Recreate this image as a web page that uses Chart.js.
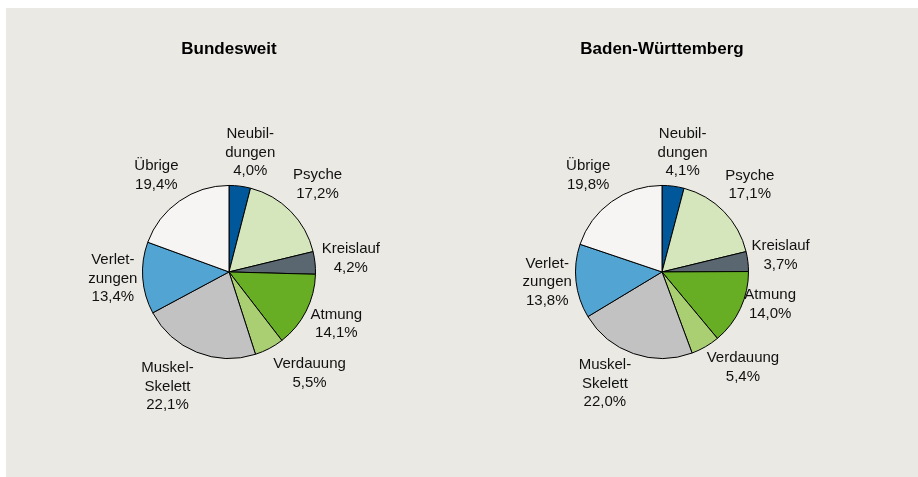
<!DOCTYPE html>
<html>
<head>
<meta charset="utf-8">
<script src="https://cdn.jsdelivr.net/npm/chart.js@4"></script>
<style>
  html, body { margin: 0; padding: 0; background: #fff; }
  #panel { position: absolute; left: 6px; top: 8px; width: 912px; height: 469px; background: #ebe9e4; }
  canvas { position: absolute; top: 0; }
  #c1 { left: 0; }
  #c2 { left: 450px; }
</style>
</head>
<body>
<div id="panel">
  <canvas id="c1" width="450" height="469"></canvas>
  <canvas id="c2" width="462" height="469"></canvas>
</div>
<script>
// categories (label lines as printed in the chart)
const categories = [
    ['Neubil-', 'dungen'],
    ['Psyche'],
    ['Kreislauf'],
    ['Atmung'],
    ['Verdauung'],
    ['Muskel-', 'Skelett'],
    ['Verlet-', 'zungen'],
    ['Übrige']
];
const bundesweit = [4.0, 17.2, 4.2, 14.1, 5.5, 22.1, 13.4, 19.4];
const badenWuerttemberg = [4.1, 17.1, 3.7, 14.0, 5.4, 22.0, 13.8, 19.8];
const sliceColors = ['#00589a', '#d5e6bc', '#5a6770', '#67ae24', '#a9cf72', '#c2c2c2', '#52a5d3', '#f6f5f3'];

const LABEL_FONT = '15px "Liberation Sans", Arial, sans-serif';
const LINE_H = 18.7;

// draws the category name and value outside each slice
const outsideLabels = {
    id: 'outsideLabels',
    afterDatasetsDraw(chart, args, opts) {
        const ctx = chart.ctx;
        const meta = chart.getDatasetMeta(0);
        const values = chart.data.datasets[0].data;
        const nudge = opts.nudge || [];
        ctx.save();
        ctx.font = LABEL_FONT;
        ctx.fillStyle = '#111';
        ctx.textAlign = 'center';
        ctx.textBaseline = 'middle';
        meta.data.forEach((arc, i) => {
            const p = arc.getProps(['x', 'y', 'startAngle', 'endAngle', 'outerRadius'], true);
            const mid = (p.startAngle + p.endAngle) / 2;
            const dist = p.outerRadius + 35;
            const n = nudge[i] || [0, 0];
            const cx = p.x + Math.cos(mid) * dist + n[0];
            const cy = p.y + Math.sin(mid) * dist + n[1];
            const lines = chart.data.labels[i].concat([values[i].toFixed(1).replace('.', ',') + '%']);
            lines.forEach((l, k) => {
                ctx.fillText(l, cx, cy - ((lines.length - 1) * LINE_H) / 2 + k * LINE_H);
            });
        });
        ctx.restore();
    }
};

function pieChart(canvas, title, values, padLeft, padRight, nudge) {
    const config = {
        type: 'pie',
        data: {
            labels: categories,
            datasets: [{
                data: values,
                backgroundColor: sliceColors,
                borderColor: '#000',
                borderWidth: 1
            }]
        },
        options: {
            responsive: false,
            animation: false,
            layout: {
                padding: { left: padLeft, right: padRight, top: 0, bottom: 118 }
            },
            plugins: {
                legend: { display: false },
                tooltip: { enabled: false },
                title: {
                    display: true,
                    text: title,
                    color: '#000',
                    font: { family: '"Liberation Sans", Arial, sans-serif', size: 17, weight: 'bold' },
                    padding: { top: 31, bottom: 125.5 }
                },
                outsideLabels: { nudge: nudge }
            }
        },
        plugins: [outsideLabels]
    };
    return new Chart(canvas.getContext('2d'), config);
}

pieChart(document.getElementById('c1'), 'Bundesweit', bundesweit, 136, 140,
    [[6, 1], [2, -2], [1, -1], [-1, -3], [24, -6], [-16, 2], [5, -2], [-3, 3]]);
pieChart(document.getElementById('c2'), 'Baden-Württemberg', badenWuerttemberg, 119, 169,
    [[5, 1], [1, -2], [-2, -2], [-2, -19], [20, -10], [-17, -3], [6, -3], [-3, 2]]);
</script>
</body>
</html>
